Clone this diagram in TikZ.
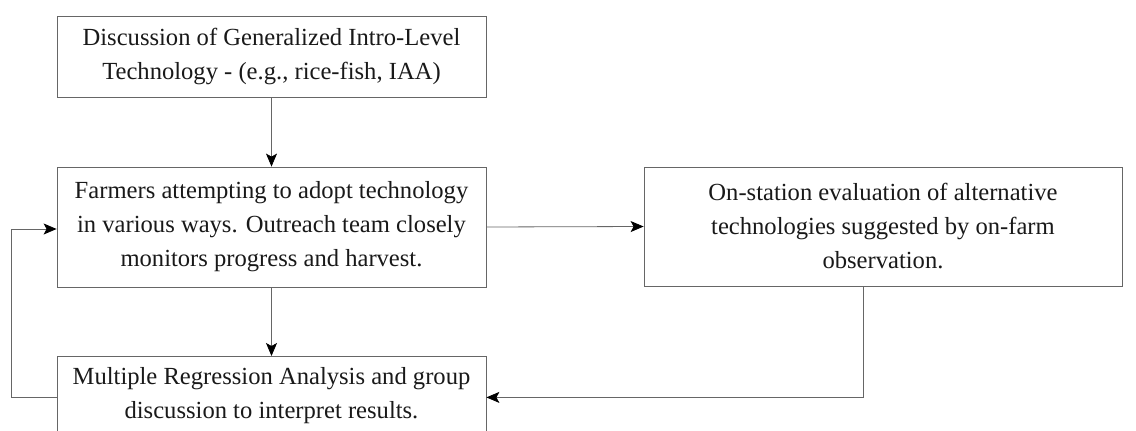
\documentclass[tikz,border=0pt]{standalone}
\usepackage{fontspec}
\setmainfont{Liberation Serif}
\usetikzlibrary{arrows.meta}
\begin{document}
\begin{tikzpicture}[x=1pt,y=1pt,
  box/.style={draw=black!60, line width=0.8pt, align=center, inner sep=0pt,
    font=\fontsize{24.6}{34}\selectfont, text=black!90},
  conn/.style={draw=black!60, line width=0.8pt, -{Stealth[length=13pt,width=11pt,inset=3pt,color=black,fill=black]}}]
\useasboundingbox (0,0) rectangle (1136,-431);
\node[box, minimum width=429pt, minimum height=81pt] (b1) at (271.5,-56.5)
  {Discussion of Generalized Intro-Level\\Technology - (e.g., rice-fish, IAA)};
\node[box, minimum width=429pt, minimum height=120pt] (b2) at (271.5,-227)
  {Farmers attempting to adopt technology\\in various ways. Outreach team closely\\monitors progress and harvest.};
\node[box, minimum width=478pt, minimum height=119pt] (b3) at (883,-226.5)
  {On-station evaluation of alternative\\technologies suggested by on-farm\\observation.};
\node[box, minimum width=429pt, minimum height=78pt, anchor=north] (b4) at (271.5,-356)
  {Multiple Regression Analysis and group\\discussion to interpret results.};
\draw[conn] (b1) -- (b2);
\draw[conn] (b2) -- (b4);
\draw[conn] (b2.east) -- (b3.west);
\draw[conn] ([yshift=-2pt]b4.west) -- ++(-45,0) |- ([yshift=-2pt]b2.west);
\draw[conn] ([xshift=-20pt]b3.south) |- ([yshift=-2pt]b4.east);
\end{tikzpicture}
\end{document}
